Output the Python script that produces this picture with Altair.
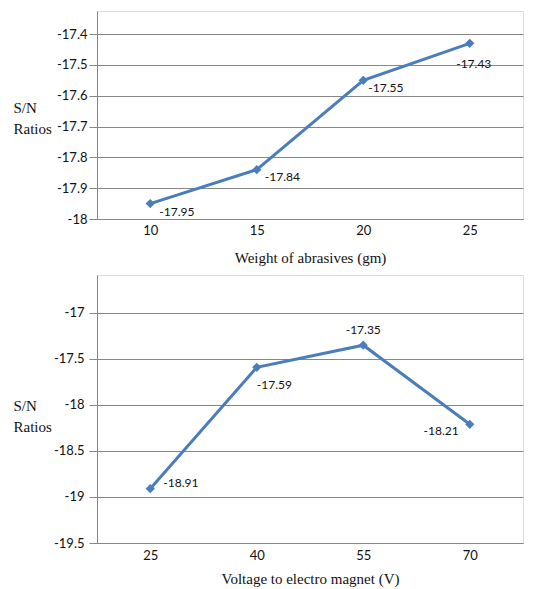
import altair as alt
import pandas as pd

# Top panel data
weight = ["10", "15", "20", "25"]
weight_sn = [-17.95, -17.84, -17.55, -17.43]
weight_ticks = [-18, -17.9, -17.8, -17.7, -17.6, -17.5, -17.4]

# Bottom panel data
voltage = ["25", "40", "55", "70"]
voltage_sn = [-18.91, -17.59, -17.35, -18.21]
voltage_ticks = [-19.5, -19, -18.5, -18, -17.5, -17]

LINE = "#4a7ebb"
GRID = "#868686"
SANS = "Lato"
SERIF = "Liberation Serif, Times New Roman, DejaVu Serif, serif"

df1 = pd.DataFrame({"x": weight, "y": weight_sn, "lab": [f"{v:.2f}" for v in weight_sn], "i": range(4)})
df2 = pd.DataFrame({"x": voltage, "y": voltage_sn, "lab": [f"{v:.2f}" for v in voltage_sn], "i": range(4)})


def panel(df, order, xtitle, ydomain, yticks, h, title_y, lab_pad_x, lab_pad_y, ttl_pad, label_specs):
    xenc = alt.X("x:O", sort=order, scale=alt.Scale(paddingOuter=0.5),
                 axis=alt.Axis(title=xtitle, labelAngle=0, ticks=False, domainColor=GRID,
                               labelFont=SANS, labelFontSize=13, labelColor="#111",
                               labelPadding=lab_pad_x, titleFont=SERIF, titleFontSize=15,
                               titleFontWeight="normal", titleColor="#111", titlePadding=ttl_pad))
    yenc = alt.Y("y:Q", scale=alt.Scale(domain=ydomain, nice=False, zero=False),
                 axis=alt.Axis(values=yticks, labelExpr="'' + datum.value",
                               title=["S/N", "Ratios"], titleAngle=0,
                               titleAlign="left", titleBaseline="top", titleX=-84, titleY=title_y,
                               titleLineHeight=21, titleFont=SERIF, titleFontSize=15,
                               titleFontWeight="normal", titleColor="#111",
                               labelFont=SANS, labelFontSize=13, labelColor="#111",
                               labelPadding=lab_pad_y, tickSize=8, tickColor=GRID,
                               domainColor=GRID, gridColor=GRID, gridOpacity=1))
    base = alt.Chart(df).encode(x=xenc, y=yenc)
    line = base.mark_line(color=LINE, strokeWidth=3)
    pts = base.mark_point(shape="diamond", filled=True, color=LINE, size=85, opacity=1)
    layers = [line, pts]
    for i, (align, dx, dy) in enumerate(label_specs):
        layers.append(
            base.transform_filter(alt.datum.i == i).mark_text(
                align=align, baseline="middle", dx=dx, dy=dy, font=SANS, fontSize=12, color="#111"
            ).encode(text="lab:N")
        )
    return alt.layer(*layers).properties(width=426, height=h)


top = panel(df1, weight, "Weight of abrasives (gm)", [-18, -17.325], weight_ticks, 208, 89, 5, 2, 13,
            [("left", 9, 8), ("left", 8, 7), ("left", 5, 8), ("center", 4, 21)])
bottom = panel(df2, voltage, "Voltage to electro magnet (V)", [-19.5, -16.587], voltage_ticks, 268, 123, 6, 5, 9,
               [("left", 13, -6), ("left", 0, 18), ("center", 0, -15), ("right", -11, 7)])

chart = alt.vconcat(top, bottom, spacing=8).properties(
    padding={"left": 4, "top": 2, "right": 0, "bottom": 0}
).configure_view(stroke=None).configure(background="white")

chart.save("out.html", embed_options={"renderer": "svg", "actions": False})
